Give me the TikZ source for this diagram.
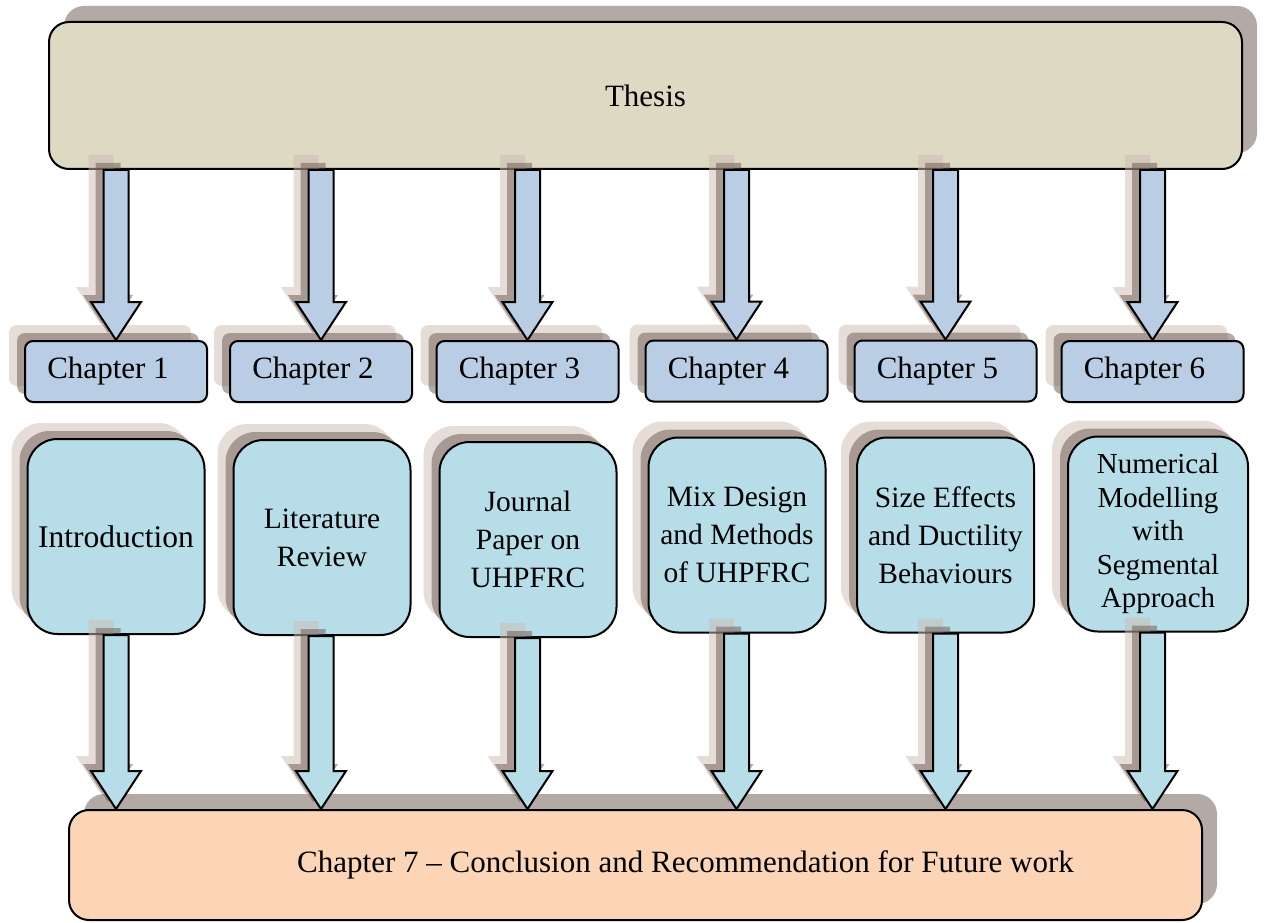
\documentclass[tikz,border=0pt]{standalone}
\usepackage{fontspec}
\setmainfont{Liberation Serif}
\usetikzlibrary{shadows,calc}
\definecolor{thesisfill}{HTML}{DDD9C3}
\definecolor{chapfill}{HTML}{B9CDE5}
\definecolor{contfill}{HTML}{B7DEE8}
\definecolor{botfill}{HTML}{FBD5B5}
\definecolor{bigshadow}{HTML}{B3AAA5}
\definecolor{shlight}{RGB}{205,187,179}
\definecolor{shdark}{RGB}{106,87,79}
\tikzset{
  bigbox/.style={draw=black, line width=2pt, rounded corners=20pt, inner sep=0pt,
    general shadow={fill=bigshadow, shadow xshift=15pt, shadow yshift=16pt},
    font=\fontsize{31}{38}\selectfont},
  twoshadow/.style={
    general shadow={fill=shlight, fill opacity=0.5, shadow xshift=-16pt, shadow yshift=16pt},
    general shadow={fill=shdark, fill opacity=0.5, shadow xshift=-8pt, shadow yshift=8pt}},
  chapbox/.style={twoshadow, draw=black, line width=2pt, rounded corners=8pt, fill=chapfill,
    inner sep=0pt, minimum width=182pt, minimum height=61pt, font=\fontsize{31}{38}\selectfont},
  contbox/.style={twoshadow, draw=black, line width=2pt, rounded corners=30pt, fill=contfill,
    inner sep=0pt, align=center, minimum width=177pt, minimum height=195pt,
    font=\fontsize{29.5}{38}\selectfont},
  arrowbody/.style={draw=black, line width=2pt, line join=miter},
}
% block arrow path, offset by (#1,#2)
\newcommand\arrpath[2]{($(bs)+(#1-12.5,#2)$) -- ($(be)+(#1-12.5,#2-38)$) -- ($(be)+(#1-25,#2-38)$) -- ($(be)+(#1,#2)$) -- ($(be)+(#1+25,#2-38)$) -- ($(be)+(#1+12.5,#2-38)$) -- ($(bs)+(#1+12.5,#2)$) -- cycle}
% #1 node giving x, #2 start node, #3 end node, #4 fill colour
\newcommand\blockarr[4]{%
  \coordinate (bs) at (#2.south -| #1);
  \coordinate (be) at (#3.north -| #1);
  \fill[shlight, fill opacity=0.5] \arrpath{-15}{-15};
  \fill[shdark, fill opacity=0.5] \arrpath{-8}{-7};
  \draw[arrowbody, fill=#4] \arrpath{0}{0};
}
\newcommand\chaptext[1]{Chapter #1\rule{16pt}{0pt}}
\begin{document}
\begin{tikzpicture}[x=1pt, y=-1pt]
\useasboundingbox (0,0) rectangle (1264,923);

\node[bigbox, fill=thesisfill, minimum width=1193pt, minimum height=147pt] (thesis) at (645.5,95.5) {Thesis};

\node[chapbox] (c1) at (116,371.5) {\chaptext{1}};
\node[chapbox] (c2) at (321,371.5) {\chaptext{2}};
\node[chapbox] (c3) at (527.5,371.5) {\chaptext{3}};
\node[chapbox] (c4) at (736.5,371) {\chaptext{4}};
\node[chapbox] (c5) at (945.5,371) {\chaptext{5}};
\node[chapbox] (c6) at (1152.5,371.5) {\chaptext{6}};

\node[contbox, font=\fontsize{31.5}{38}\selectfont] (t1) at (116,536.5) {Introduction};
\node[contbox] (t2) at (322,537.5) {Literature\\Review};
\node[contbox] (t3) at (528,539.5) {Journal\\Paper on\\UHPFRC};
\node[contbox] (t4) at (737,535) {Mix Design\\and Methods\\of UHPFRC};
\node[contbox] (t5) at (945.5,535) {Size Effects\\and Ductility\\Behaviours};
\node[contbox, minimum width=180pt, font=\fontsize{29}{33.5}\selectfont] (t6) at (1158,534) {Numerical\\Modelling\\with\\Segmental\\Approach};

\node[bigbox, fill=botfill, minimum width=1133pt, minimum height=110pt] (bottom) at (635.5,865) {\hspace*{100pt}Chapter 7 -- Conclusion and Recommendation for Future work};

\foreach \i in {1,...,6} {
  \blockarr{c\i}{thesis}{c\i}{chapfill}
  \blockarr{c\i}{t\i}{bottom}{contfill}
}
\end{tikzpicture}
\end{document}
